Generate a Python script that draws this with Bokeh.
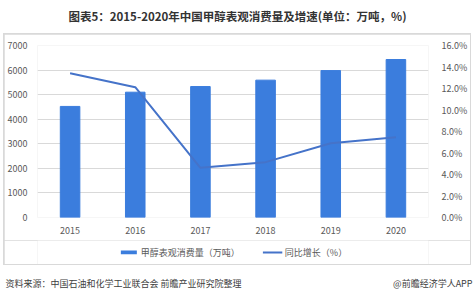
from bokeh.plotting import figure
from bokeh.layouts import column
from bokeh.models import (Range1d, LinearAxis, NumeralTickFormatter, Legend, LegendItem,
                          Label, FixedTicker, ColumnDataSource, CDSView, IndexFilter)
from bokeh.core.properties import value
from bokeh.embed import file_html
from bokeh.resources import INLINE

years = ["2015", "2016", "2017", "2018", "2019", "2020"]
consumption = [4520, 5100, 5330, 5590, 5980, 6430]   # 万吨
growth = [0.1342, 0.1212, 0.0462, 0.0515, 0.0690, 0.0747]  # 同比增长
bar_label = "甲醇表观消费量（万吨）"
line_label = "同比增长（%）"
title_text = "图表5：2015-2020年中国甲醇表观消费量及增速(单位：万吨，%)"
source_text = "资料来源：中国石油和化学工业联合会 前瞻产业研究院整理"
brand_text = "@前瞻经济学人APP"

FONT = "Noto Sans CJK SC"
GRAY = "#595959"
BAR_COLOR = "#3b7ddd"
LINE_COLOR = "#4573c9"


def blank(w, h, x_range=None, y_range=None):
    f = figure(width=w, height=h,
               x_range=x_range if x_range is not None else Range1d(0, 1),
               y_range=y_range if y_range is not None else Range1d(0, 1),
               x_axis_type=None, y_axis_type=None, output_backend="svg", toolbar_location=None,
               min_border=0, min_border_left=0, min_border_right=0, min_border_top=0, min_border_bottom=0)
    f.grid.visible = False
    f.outline_line_color = None
    f.background_fill_color = "white"
    f.border_fill_color = "white"
    return f


# ---------- title ----------
tf = blank(474, 33)
tf.add_layout(Label(x=237, y=18, x_units="screen", y_units="screen", text=title_text,
                    text_font=FONT, text_font_size="11.5px", text_font_style="bold",
                    text_color="#333333", text_align="center", text_baseline="middle"))

# ---------- main chart ----------
src = ColumnDataSource(dict(year=years, cons=consumption, g=growth))
p = figure(width=466, height=206, x_range=years, y_range=Range1d(0, 7000),
           output_backend="svg", toolbar_location=None,
           min_border_left=33, min_border_right=38, min_border_top=11, min_border_bottom=23)
p.margin = (1, 1, 0, 1)
p.x_range.range_padding = 0
p.outline_line_color = None
p.background_fill_color = "white"
p.border_fill_color = "white"
p.extra_y_ranges = {"pct": Range1d(0, 0.16)}

bars = p.vbar(x="year", top="cons", width=0.3, source=src, color=BAR_COLOR)
line = p.line(x="year", y="g", source=src, y_range_name="pct", line_color=LINE_COLOR, line_width=2)

p.yaxis.ticker = FixedTicker(ticks=list(range(0, 7001, 1000)))
ax2 = LinearAxis(y_range_name="pct", ticker=FixedTicker(ticks=[i * 0.02 for i in range(9)]),
                 formatter=NumeralTickFormatter(format="0.0%"))
p.add_layout(ax2, "right")
for ax in [p.xaxis[0], p.yaxis[0], ax2]:
    ax.axis_line_color = None
    ax.major_tick_line_color = None
    ax.minor_tick_line_color = None
    ax.major_label_text_font = FONT
    ax.major_label_text_font_size = "9px"
    ax.major_label_text_color = GRAY
p.yaxis[0].major_label_standoff = 4
ax2.major_label_standoff = 7
p.xaxis.major_label_standoff = 3

p.xgrid.grid_line_color = None
p.ygrid.grid_line_color = "#d9d9d9"
p.ygrid.grid_line_width = 1

# ---------- legend strip: proxies keep one row each, drawn with zero size, so only the legend shows ----------
lf = blank(466, 24, x_range=years, y_range=Range1d(0, 7000))
lf.margin = (0, 1, 1, 1)
lf.extra_y_ranges = {"pct": Range1d(0, 0.16)}
lr_bar = lf.vbar(x="year", top="cons", bottom="cons", width=0, source=src,
                 view=CDSView(filter=IndexFilter(indices=[0])),
                 fill_color=BAR_COLOR, line_color=None)
lr_line = lf.line(x="year", y="g", source=src, view=CDSView(filter=IndexFilter(indices=[0])),
                  y_range_name="pct", line_color=LINE_COLOR, line_width=2)
legend = Legend(items=[LegendItem(label=value(bar_label), renderers=[lr_bar]),
                       LegendItem(label=value(line_label), renderers=[lr_line])],
                orientation="horizontal", location="center",
                label_text_font=FONT, label_text_font_size="9px", label_text_color=GRAY,
                glyph_width=20, glyph_height=5, label_height=10, label_standoff=3,
                spacing=22, padding=2, margin=0, border_line_color=None,
                background_fill_alpha=0)
lf.add_layout(legend)

boxed = column(p, lf, spacing=0, margin=(0, 3, 0, 3),
               styles={"background-color": "#d9d9d9"})

# ---------- footer ----------
ff = blank(474, 32)
ff.add_layout(Label(x=5, y=14, x_units="screen", y_units="screen", text=source_text,
                    text_font=FONT, text_font_size="9px", text_color="#404040",
                    text_align="left", text_baseline="middle"))
ff.add_layout(Label(x=472, y=14, x_units="screen", y_units="screen", text=brand_text,
                    text_font=FONT, text_font_size="9px", text_color="#404040",
                    text_align="right", text_baseline="middle"))

page = column(tf, boxed, ff, spacing=0)
open("out.html", "w").write(file_html(page, INLINE))
